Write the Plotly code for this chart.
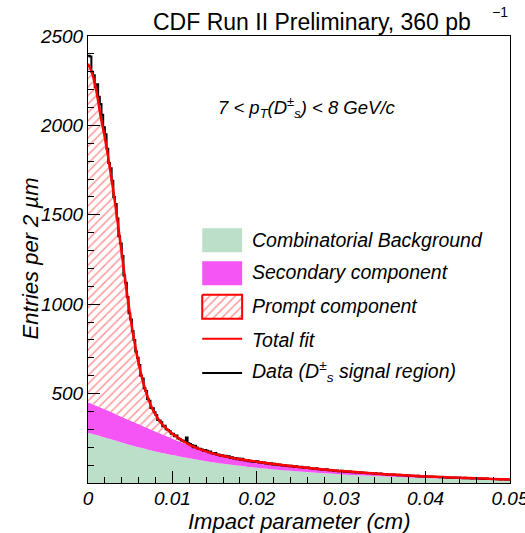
import plotly.graph_objects as go

# ---------------- data ----------------
bin_width = 0.0002  # cm (2 um bins), histogram from 0 to 0.05 cm
data_counts = [
    2390, 2385, 2300, 2280, 2215, 2230, 2160, 2120, 2060, 1990,
    1950, 1870, 1790, 1760, 1690, 1600, 1560, 1480, 1380, 1340,
    1270, 1160, 1120, 1040, 950, 915, 850, 800, 735, 700,
    660, 600, 585, 530, 515, 470, 460, 420, 418, 395,
    380, 352, 350, 340, 318, 320, 300, 296, 290, 275,
    275, 262, 266, 250, 244, 238, 236, 231, 255, 222,
    218, 212, 200, 208, 198, 190, 192, 188, 180, 184,
    180, 172, 176, 166, 163, 168, 158, 160, 152, 155,
    150, 153, 145, 149, 140, 144, 137, 140, 133, 137,
    130, 135, 127, 126, 129, 122, 124, 119, 123, 117,
    121, 115, 118, 112, 114, 109, 111, 106, 110, 104,
    107, 103, 101, 104, 99, 98, 101, 95, 97, 94,
    96, 92, 90, 94, 89, 88, 91, 86, 85, 87,
    86, 82, 84, 80, 79, 82, 77, 78, 75, 76,
    74, 77, 72, 71, 73, 69, 68, 70, 66, 67,
    68, 65, 63, 66, 62, 64, 60, 62, 59, 61,
    60, 58, 59, 56, 57, 55, 56, 54, 55, 52,
    54, 52, 51, 53, 50, 49, 50, 48, 47, 48,
    46, 47, 45, 44, 46, 43, 44, 42, 43, 41,
    42, 40, 41, 39, 38, 40, 37, 38, 36, 37,
    36, 37, 35, 36, 34, 35, 33, 34, 32, 33,
    33, 31, 32, 30, 31, 29, 30, 31, 28, 29,
    29, 28, 27, 29, 26, 27, 28, 25, 26, 26,
    25, 26, 24, 25, 23, 24, 25, 22, 23, 22,
    23, 22, 21, 22, 20, 21, 22, 19, 20, 19,
]

fit_x = [0.0, 0.0005, 0.001, 0.0015, 0.002, 0.0025, 0.003, 0.0035, 0.004, 0.0045,
         0.005, 0.0055, 0.006, 0.0065, 0.007, 0.0075, 0.008, 0.0085, 0.009, 0.0095,
         0.010, 0.011, 0.012, 0.013, 0.014, 0.015, 0.016, 0.017, 0.018, 0.019,
         0.020, 0.022, 0.024, 0.026, 0.028, 0.030, 0.032, 0.034, 0.036, 0.038,
         0.040, 0.042, 0.044, 0.046, 0.048, 0.050]
total_fit = [2345, 2290, 2190, 2050, 1930, 1790, 1635, 1465, 1285, 1100,
             935, 790, 670, 570, 490, 428, 382, 346, 318, 295,
             275, 243, 215, 194, 177, 163, 152, 142, 133, 126,
             119, 106, 95, 85, 76, 67, 60, 53, 47, 42,
             37, 33, 29, 26, 23, 20]
comb_bkg = [280, 274, 268, 261, 254, 247, 240, 233, 226, 219,
            212, 206, 200, 194, 188, 182, 176, 171, 166, 161,
            156, 147, 138, 130, 122, 115, 108, 102, 96, 90,
            85, 76, 68, 61, 54, 48, 43, 39, 35, 31,
            28, 25, 22, 20, 18, 16]
comb_plus_secondary = [452, 442, 432, 422, 412, 402, 392, 381, 371, 360,
                       350, 340, 330, 319, 309, 298, 288, 278, 268, 258,
                       248, 229, 211, 192, 175, 161, 150, 140, 131, 124,
                       117, 104, 93, 83, 74, 65, 58, 51, 45, 40,
                       35, 31, 27, 24, 21, 18]

x_tick_vals = [0, 0.01, 0.02, 0.03, 0.04, 0.05]
x_tick_text = ["0", "0.01", "0.02", "0.03", "0.04", "0.05"]
y_tick_vals = [500, 1000, 1500, 2000, 2500]
y_tick_text = ["500", "1000", "1500", "2000", "2500"]

legend_labels = ["Combinatorial Background", "Secondary component", "Prompt component",
                 "Total fit", "Data (D<sup>±</sup><sub>s</sub> signal region)"]

# ---------------- style ----------------
FONT = "Liberation Sans, Arial, Helvetica, sans-serif"
GREEN = "#bcdfca"
MAGENTA = "#f555f5"
RED = "#ff0000"
HATCH = dict(shape="/", fgcolor="#ff3030", bgcolor="white", size=6, solidity=0.25)

W, H = 525, 533
L, R, T, B = 87.5, 14.5, 36, 49.5
PW, PH = W - L - R, H - T - B


def fx(px):  # pixel -> paper x (plot area)
    return (px - L) / PW


def fy(py):  # pixel -> paper y (plot area)
    return (H - B - py) / PH


edges = [i * bin_width for i in range(len(data_counts) + 1)]
steps = data_counts + [data_counts[-1]]

fig = go.Figure()

fig.add_trace(go.Scatter(x=fit_x, y=comb_bkg, mode="lines", line=dict(width=0, shape="spline"),
                         fill="tozeroy", fillcolor=GREEN, hoverinfo="skip"))
fig.add_trace(go.Scatter(x=fit_x, y=comb_plus_secondary, mode="lines",
                         line=dict(width=0, shape="spline"),
                         fill="tonexty", fillcolor=MAGENTA, hoverinfo="skip"))
fig.add_trace(go.Scatter(x=fit_x, y=total_fit, mode="lines", line=dict(width=0, shape="spline"),
                         fill="tonexty", fillcolor="rgba(0,0,0,0)", fillpattern=HATCH,
                         hoverinfo="skip"))
fig.add_trace(go.Scatter(x=edges, y=steps, mode="lines",
                         line=dict(color="black", width=2, shape="hv")))
fig.add_trace(go.Scatter(x=fit_x, y=total_fit, mode="lines",
                         line=dict(color=RED, width=2.5, shape="spline")))

# ---- legend drawn on an overlay (paper-like) axis ----
box_x0, box_x1 = fx(202), fx(242)
boxes = [(228.5, 252.5, GREEN, None, None), (261.5, 285.5, MAGENTA, None, None),
         (295, 319, "rgba(0,0,0,0)", RED, HATCH)]
for (y0, y1, col, lc, pat) in boxes:
    kw = {}
    if pat:
        kw["fillpattern"] = pat
    fig.add_trace(go.Scatter(
        x=[box_x0, box_x1, box_x1, box_x0, box_x0], y=[fy(y0), fy(y0), fy(y1), fy(y1), fy(y0)],
        xaxis="x2", yaxis="y2", mode="lines", fill="toself", fillcolor=col,
        line=dict(color=lc if lc else col, width=2 if lc else 0), hoverinfo="skip", **kw))

fig.add_shape(type="line", xref="paper", yref="paper", x0=box_x0, x1=box_x1,
              y0=fy(339), y1=fy(339), line=dict(color=RED, width=2))
fig.add_shape(type="line", xref="paper", yref="paper", x0=box_x0, x1=box_x1,
              y0=fy(373.5), y1=fy(373.5), line=dict(color="black", width=2))

text_y = [240, 272, 306, 340, 372]
for lab, ty in zip(legend_labels, text_y):
    fig.add_annotation(x=fx(250), y=fy(ty), xref="paper", yref="paper", text=lab,
                       showarrow=False, xanchor="left", yanchor="middle",
                       font=dict(family=FONT, size=19.5, style="italic", color="black"))

# ---- title & labels ----
fig.add_annotation(x=fx(312.5), y=fy(22), xref="paper", yref="paper",
                   text="CDF Run II Preliminary, 360 pb", showarrow=False,
                   xanchor="center", yanchor="middle",
                   font=dict(family=FONT, size=23, color="black"))
fig.add_annotation(x=fx(500), y=fy(12), xref="paper", yref="paper", text="\u22121",
                   showarrow=False, xanchor="center", yanchor="middle",
                   font=dict(family=FONT, size=14, color="black"))
fig.add_annotation(x=fx(307), y=fy(108), xref="paper", yref="paper",
                   text="7 &lt; p<sub>T</sub>(D<sup>±</sup><sub>s</sub>) &lt; 8 GeV/c",
                   showarrow=False, xanchor="center", yanchor="middle",
                   font=dict(family=FONT, size=18.5, style="italic", color="black"))
# axis titles
fig.add_annotation(x=fx(299), y=fy(522), xref="paper", yref="paper",
                   text="Impact parameter (cm)", showarrow=False,
                   xanchor="center", yanchor="middle",
                   font=dict(family=FONT, size=22, style="italic", color="black"))
fig.add_annotation(x=fx(30), y=fy(259), xref="paper", yref="paper",
                   text="Entries per 2 \u00b5m", showarrow=False, textangle=-90,
                   xanchor="center", yanchor="middle",
                   font=dict(family=FONT, size=22, style="italic", color="black"))

axis_common = dict(showline=True, linecolor="black", linewidth=1, mirror=True,
                   showgrid=False, zeroline=False, ticks="inside", ticklen=12,
                   tickcolor="black", tickwidth=1, ticklabeloverflow="allow")

fig.update_layout(
    width=W, height=H, margin=dict(l=L, r=R, t=T, b=B, autoexpand=False),
    paper_bgcolor="white", plot_bgcolor="white", showlegend=False,
    font=dict(family=FONT, color="black"),
    xaxis=dict(range=[0, 0.0500001], tickvals=x_tick_vals, ticktext=x_tick_text,
               tickfont=dict(family=FONT, size=19, style="italic"),
               ticklabelstandoff=-2,
               minor=dict(ticks="inside", ticklen=6, dtick=0.002, tick0=0, tickcolor="black",
                          showgrid=False),
               **axis_common),
    yaxis=dict(range=[0, 2500], tickvals=y_tick_vals, ticktext=y_tick_text,
               tickfont=dict(family=FONT, size=19, style="italic"),
               minor=dict(ticks="inside", ticklen=6, dtick=100, tick0=0, tickcolor="black",
                          showgrid=False),
               **axis_common),
    xaxis2=dict(overlaying="x", range=[0, 1], visible=False, anchor="y2"),
    yaxis2=dict(overlaying="y", range=[0, 1], visible=False, anchor="x2"),
)

fig.write_html("out.html")
